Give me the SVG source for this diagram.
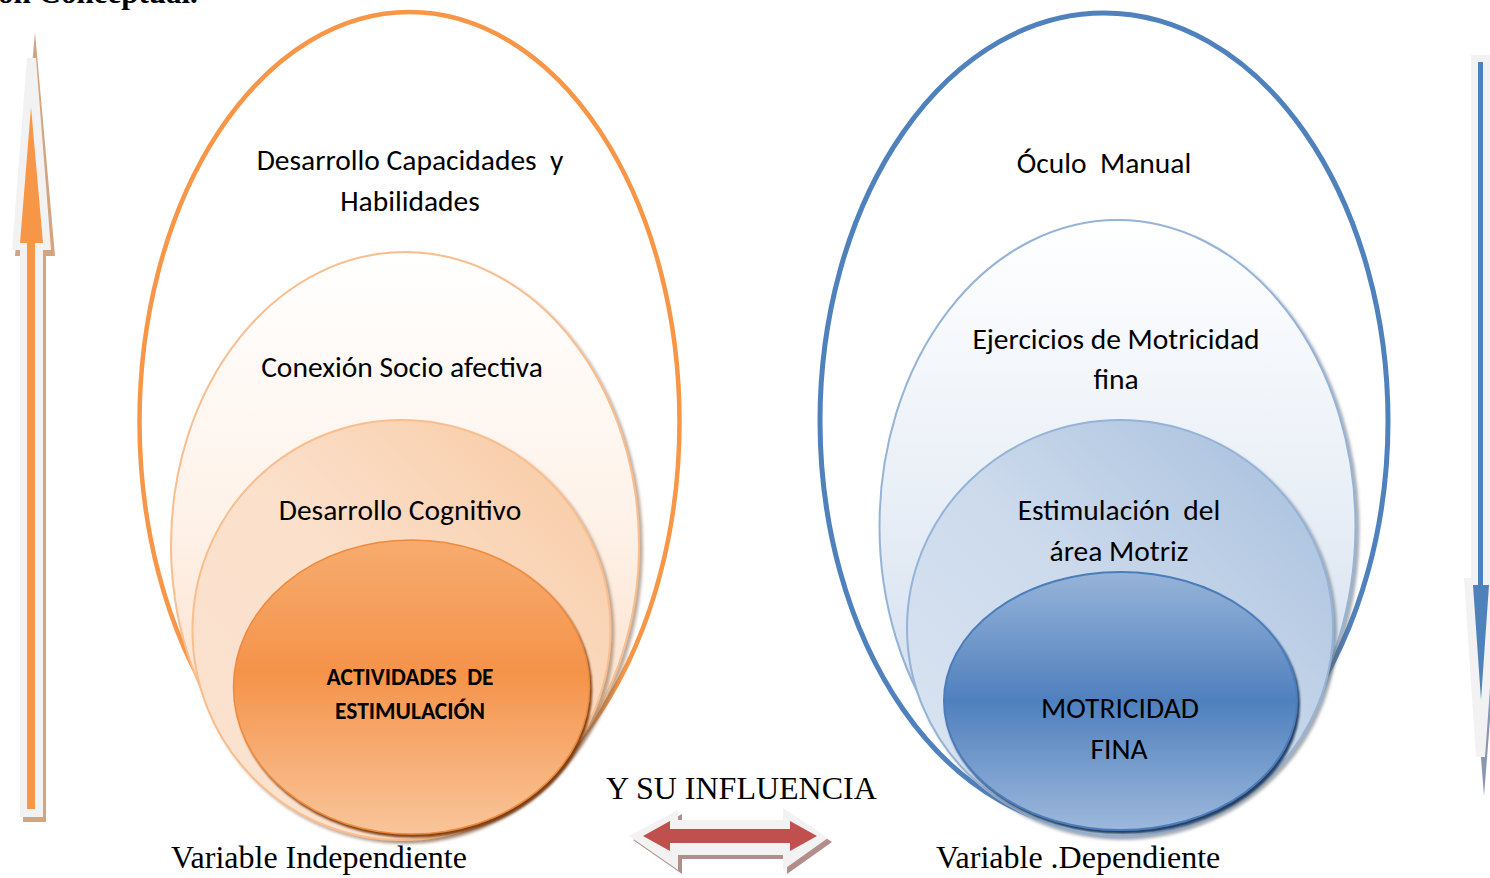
<svg xmlns="http://www.w3.org/2000/svg" width="1490" height="878" viewBox="0 0 1490 878">
<defs>
<style>
.lbl{font-family:Carlito,Lato,"Open Sans",sans-serif;font-size:29.5px;fill:#000;text-anchor:middle;white-space:pre}
.bold{font-family:Carlito,Lato,"Open Sans",sans-serif;font-size:23.5px;font-weight:bold;fill:#000;text-anchor:middle;white-space:pre}
.ser{font-family:"Liberation Serif","Times New Roman",serif;font-size:32px;fill:#000}
</style>
<linearGradient id="gO2" x1="0" y1="0" x2="0" y2="1"><stop offset="0" stop-color="#FFFFFF"/><stop offset="0.45" stop-color="#FEF2E9"/><stop offset="1" stop-color="#FAD8BD"/></linearGradient>
<linearGradient id="gO3" x1="1" y1="0" x2="0" y2="1"><stop offset="0" stop-color="#F8C8A0"/><stop offset="0.5" stop-color="#FBE0CB"/><stop offset="1" stop-color="#FBE3D0"/></linearGradient>
<linearGradient id="gO4" x1="0" y1="0" x2="0" y2="1"><stop offset="0" stop-color="#F6AC6F"/><stop offset="0.45" stop-color="#F5934A"/><stop offset="1" stop-color="#F9C59A"/></linearGradient>
<linearGradient id="gB2" x1="0" y1="0" x2="0" y2="1"><stop offset="0" stop-color="#FFFFFF"/><stop offset="0.45" stop-color="#E9EFF7"/><stop offset="1" stop-color="#C7D6EA"/></linearGradient>
<linearGradient id="gB3" x1="1" y1="0" x2="0" y2="1"><stop offset="0" stop-color="#A4BDDC"/><stop offset="0.5" stop-color="#CCDAEC"/><stop offset="1" stop-color="#DCE6F2"/></linearGradient>
<linearGradient id="gB4" x1="0" y1="0" x2="0" y2="1"><stop offset="0" stop-color="#97B4D9"/><stop offset="0.5" stop-color="#4F80BE"/><stop offset="1" stop-color="#9DB8DC"/></linearGradient>
<filter id="shO" x="-10%" y="-10%" width="125%" height="125%"><feDropShadow dx="3" dy="3" stdDeviation="1.5" flood-color="#8a6a50" flood-opacity="0.55"/></filter>
<filter id="shO4" x="-10%" y="-10%" width="125%" height="125%"><feDropShadow dx="2" dy="3" stdDeviation="0.8" flood-color="#7a3a08" flood-opacity="0.95"/></filter>
<filter id="shB" x="-10%" y="-10%" width="125%" height="125%"><feDropShadow dx="3" dy="3" stdDeviation="1.5" flood-color="#5d6a78" flood-opacity="0.55"/></filter>
<filter id="shB4" x="-10%" y="-10%" width="125%" height="125%"><feDropShadow dx="2" dy="3" stdDeviation="0.8" flood-color="#1c3559" flood-opacity="0.95"/></filter>
</defs>
<rect width="1490" height="878" fill="#FFFFFF"/>

<text x="-2" y="3" font-family="'Liberation Serif',serif" font-size="31" font-weight="bold" fill="#000">ón Conceptual.</text>

<g id="left-set">
<g id="left-outer"><ellipse cx="409.5" cy="422" rx="270" ry="410" fill="none" stroke="#F79646" stroke-width="4.5"/>
<text class="lbl" x="410" y="170">Desarrollo Capacidades  y</text>
<text class="lbl" x="410" y="211">Habilidades</text></g>
<g id="left-l2"><ellipse cx="405" cy="545" rx="234" ry="293" fill="url(#gO2)" stroke="#F9BE8E" stroke-width="2" filter="url(#shO)"/>
<text class="lbl" x="402" y="377">Conexión Socio afectiva</text></g>
<g id="left-l3"><ellipse cx="401.5" cy="630" rx="209" ry="210" fill="url(#gO3)" stroke="#F9BE8E" stroke-width="2" filter="url(#shO)"/>
<text class="lbl" x="400" y="520">Desarrollo Cognitivo</text></g>
<g id="left-l4"><ellipse cx="411.5" cy="687" rx="178" ry="147" fill="url(#gO4)" stroke="#EE8A3C" stroke-width="1.5" filter="url(#shO4)"/>
<text class="bold" x="410" y="685">ACTIVIDADES  DE</text>
<text class="bold" x="410" y="719">ESTIMULACIÓN</text></g>
</g>

<g id="right-set">
<g id="right-outer"><ellipse cx="1104" cy="421" rx="284" ry="408" fill="none" stroke="#4F81BD" stroke-width="5"/>
<text class="lbl" x="1104" y="173">Óculo  Manual</text></g>
<g id="right-l2"><ellipse cx="1117.5" cy="526" rx="238" ry="306" fill="url(#gB2)" stroke="#95B3D7" stroke-width="2" filter="url(#shB)"/>
<text class="lbl" x="1116" y="349">Ejercicios de Motricidad</text>
<text class="lbl" x="1116" y="389">fina</text></g>
<g id="right-l3"><ellipse cx="1120" cy="628" rx="213" ry="208" fill="url(#gB3)" stroke="#95B3D7" stroke-width="2" filter="url(#shB)"/>
<text class="lbl" x="1119" y="520">Estimulación  del</text>
<text class="lbl" x="1119" y="561">área Motriz</text></g>
<g id="right-l4"><ellipse cx="1120.5" cy="701" rx="176.5" ry="129" fill="url(#gB4)" stroke="#4A7DBC" stroke-width="2" filter="url(#shB4)"/>
<text class="lbl" x="1120" y="718">MOTRICIDAD</text>
<text class="lbl" x="1119" y="759">FINA</text></g>
</g>

<g id="connectors">
<g id="arrow-up">
<polygon points="35,32 55,256 46,256 46,822 23,822 23,256 15,256" fill="#D3A480"/>
<polygon points="27,58 36,58 51,250 43,250 43,817 20,817 20,250 12,250" fill="#F2F2F2"/>
<polygon points="31,107 43,243 35,243 35,809 27,809 27,243 20,243" fill="#F79646"/>
</g>
<g id="arrow-down">
<polygon points="1474,58 1495,58 1495,581 1501,581 1484,796 1467,581 1474,581" fill="#8798B0"/>
<polygon points="1471,55 1492,55 1492,578 1498,578 1485,757 1476,757 1464,578 1471,578" fill="#F2F2F2"/>
<polygon points="1478,62 1483,62 1483,585 1489,585 1481,700 1473,585 1478,585" fill="#4F81BD"/>
</g>
<g id="arrow-both">
<polygon points="633,840 682,814 682,824 787,824 787,812 832,842 787,874 787,859 682,859 682,874" fill="#B38C8C"/>
<polygon points="629,836 678,810 678,820 783,820 783,808 828,838 783,870 783,855 678,855 678,870" fill="#F2F2F2"/>
<polygon points="643,836 670,821 670,829 790,829 790,821 817,836 790,851 790,843 670,843 670,851" fill="#C0504D"/>
</g>
</g>

<text class="ser" x="606" y="799">Y SU INFLUENCIA</text>
<text class="ser" x="171" y="868">Variable Independiente</text>
<text class="ser" x="936" y="868">Variable .Dependiente</text>
</svg>
